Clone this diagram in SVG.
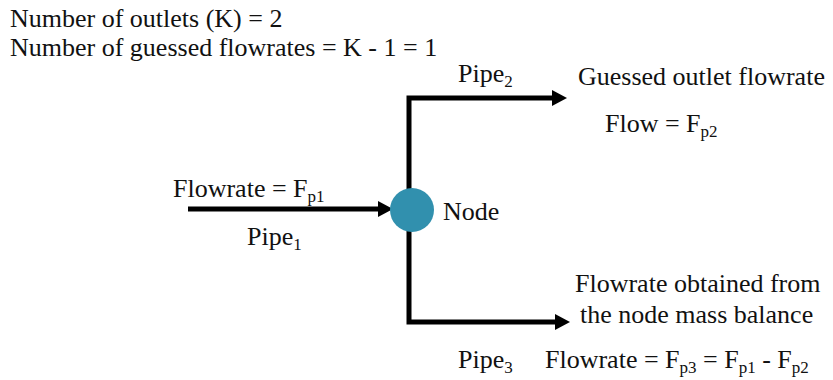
<svg xmlns="http://www.w3.org/2000/svg" width="833" height="380" viewBox="0 0 833 380">
<style>
text{font-family:"Liberation Serif","Times New Roman",serif;font-size:26px;fill:#111}
.sub{font-size:17px}
.pipe{fill:none;stroke:#000;stroke-width:5}
</style>
<defs>
<marker id="ah" markerUnits="userSpaceOnUse" markerWidth="16" markerHeight="17" refX="0" refY="8" orient="auto" viewBox="0 0 16 16" overflow="visible">
<path d="M0,0 L15,8 L0,16 z" fill="#000"/>
</marker>
</defs>
<rect width="833" height="380" fill="#fff"/>
<g id="info">
<text x="10" y="27">Number of outlets (K) = 2</text>
<text x="10" y="56">Number of guessed flowrates = K - 1 = 1</text>
</g>
<g id="connectors">
<path class="pipe" d="M188,209 H378" marker-end="url(#ah)"/>
<path class="pipe" d="M409,210 V98 H552" marker-end="url(#ah)"/>
<path class="pipe" d="M409,210 V322 H555" marker-end="url(#ah)"/>
</g>
<g id="node">
<circle cx="412" cy="210" r="22" fill="#3190ae"/>
<text x="443" y="220">Node</text>
</g>
<g id="pipe1">
<text x="173" y="197">Flowrate = F<tspan class="sub" dy="5">p1</tspan></text>
<text x="247" y="245">Pipe<tspan class="sub" dy="5">1</tspan></text>
</g>
<g id="pipe2">
<text x="458" y="82">Pipe<tspan class="sub" dy="5">2</tspan></text>
<text x="578" y="85">Guessed outlet flowrate</text>
<text x="605" y="132">Flow = F<tspan class="sub" dy="5">p2</tspan></text>
</g>
<g id="pipe3">
<text x="575" y="292">Flowrate obtained from</text>
<text x="580" y="323">the node mass balance</text>
<text x="458" y="368">Pipe<tspan class="sub" dy="5">3</tspan></text>
<text x="545" y="368">Flowrate = F<tspan class="sub" dy="5">p3</tspan><tspan dy="-5"> = F</tspan><tspan class="sub" dy="5">p1</tspan><tspan dy="-5"> - F</tspan><tspan class="sub" dy="5">p2</tspan></text>
</g>
</svg>
